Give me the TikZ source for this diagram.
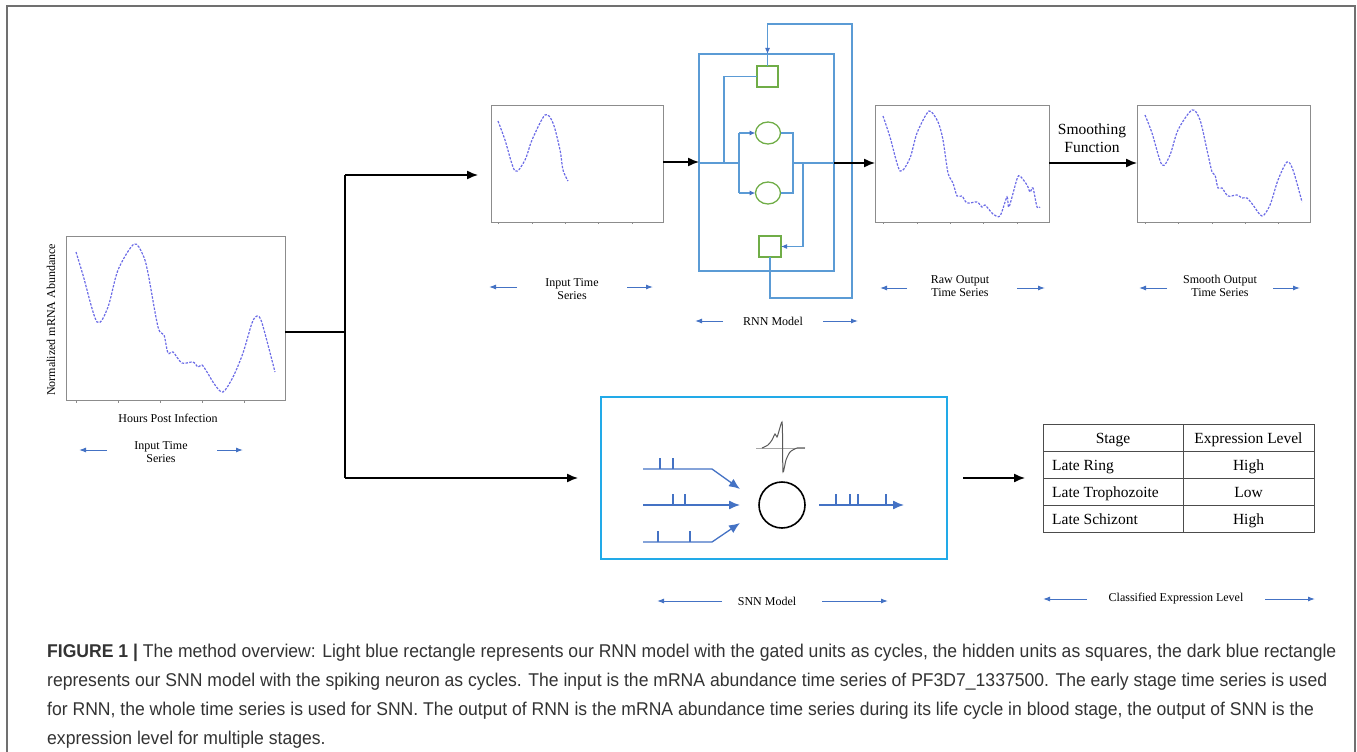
\documentclass[tikz,border=0pt]{standalone}
\usepackage{fontspec}
\setmainfont{Liberation Serif}
\newfontfamily\capfont[FakeStretch=0.95]{Liberation Sans}
\usetikzlibrary{arrows.meta,shapes.geometric}
\definecolor{plotc}{HTML}{6B6BE6}
\definecolor{lblue}{HTML}{4472C4}
\definecolor{rnnb}{HTML}{5B9BD5}
\definecolor{grn}{HTML}{70AD47}
\definecolor{snnb}{HTML}{22AAE8}
\definecolor{boxg}{HTML}{8C8C8C}
\definecolor{capc}{HTML}{333333}
\definecolor{framec}{HTML}{707070}
\tikzset{
  plotbox/.style={draw=boxg, line width=1pt, outer sep=0pt, inner sep=0pt},
  curve/.style={plotc, line width=1.2pt, dash pattern=on 2.4pt off 1.4pt},
  tick/.style={boxg, line width=0.5pt},
  lab/.style={font=\fontsize{12}{13}\selectfont, align=center, inner sep=0pt},
  larr/.style={lblue, line width=1pt, -{Latex[length=7pt,width=5pt]}},
  blk/.style={black, line width=1.4pt, -{Latex[length=11pt,width=9pt]}},
  rnnl/.style={rnnb, line width=1.1pt},
  rnnarr/.style={rnnb, line width=1.1pt, -{Latex[length=6pt,width=5pt,color=lblue]}},
  gsq/.style={draw=grn, line width=1.3pt, minimum width=21pt, minimum height=21pt, inner sep=0pt, outer sep=0pt},
  gell/.style={draw=grn, line width=1.3pt, ellipse, minimum width=25pt, minimum height=22pt, inner sep=0pt, outer sep=0pt},
  spk/.style={lblue, line width=1.3pt},
  spkarr/.style={lblue, line width=1.3pt, -{Latex[length=11pt,width=9pt]}},
  tabl/.style={draw=black!70, line width=0.9pt},
  tabt/.style={font=\fontsize{15.5}{17}\selectfont, inner sep=0pt},
  capline/.style={font=\capfont\fontsize{18.5}{21}\selectfont, text=capc, anchor=base west, inner sep=0pt}
}
\begin{document}
\begin{tikzpicture}[x=1pt,y=-1pt]
\useasboundingbox (0,0) rectangle (1357,752);
% frame
\draw[framec, line width=1.8pt] (7,752) -- (7,6) -- (1355,6) -- (1355,752);

% ---------- big input plot
\node[plotbox, minimum width=219pt, minimum height=164pt] (inp) at (175.5,318) {};
\foreach \t in {76,118,160,202,244} \draw[tick] (\t,400) -- (\t,403);
\draw[curve] plot[smooth, tension=0.5] coordinates {(76,252)(83,275)(97,322)(108,307)(118,270)(134,244)(143,255)(148,273)(158,327)(164,335)(168,353)(173,352)(182,363)(193,362)(198,367)(202,365)(207,372)(215,385)(223,392)(233,377)(243,353)(252,323)(257,316)(262,323)(275,372)};
\node[lab, rotate=90] (yl) at (51,320) {Normalized mRNA Abundance};
\node[lab] (xl) at (168,418) {Hours Post Infection};
\node[lab] (l1) at (161,452) {Input Time\\Series};
\draw[larr] (107,450) -- (79,450);
\draw[larr] (217,450) -- (243,450);

% ---------- top input plot
\node[plotbox, minimum width=172pt, minimum height=117pt] (tp) at (577,163.5) {};
\foreach \t in {498,532,565,598,632} \draw[tick] (\t,222) -- (\t,224);
\draw[curve] plot[smooth, tension=0.5] coordinates {(498,121)(505,140)(515,171)(525,160)(532,140)(545,115)(553,123)(560,150)(563,170)(568,181)};
\node[lab] (l2) at (572,289.5) {Input Time\\Series};
\draw[larr] (517,287) -- (489,287);
\draw[larr] (627,287) -- (653,287);

% ---------- raw output plot
\node[plotbox, minimum width=174pt, minimum height=117pt] (raw) at (962,163.5) {};
\foreach \t in {883,917,950,983,1017} \draw[tick] (\t,222) -- (\t,224);
\draw[curve] plot[smooth, tension=0.45] coordinates {(883,116)(890,137)(900,171)(910,158)(917,133)(929,111)(938,122)(943,140)(948,173)(953,183)(957,196)(962,196)(967,203)(977,202)(982,207)(985,205)(993,214)(1000,216)(1007,197)(1009,207)(1017,179)(1020,176)(1027,185)(1030,192)(1033,188)(1037,207)(1040,207)};
\node[lab] (l3) at (960,286.5) {Raw Output\\Time Series};
\draw[larr] (907,288) -- (880,288);
\draw[larr] (1017,288) -- (1045,288);

% ---------- smooth output plot
\node[plotbox, minimum width=173pt, minimum height=117pt] (smo) at (1223.5,163.5) {};
\foreach \t in {1145,1178,1212,1245,1278} \draw[tick] (\t,222) -- (\t,224);
\draw[curve] plot[smooth, tension=0.5] coordinates {(1145,115)(1152,133)(1162,165)(1170,155)(1178,130)(1192,110)(1200,120)(1207,150)(1212,172)(1215,175)(1218,188)(1222,188)(1228,196)(1237,195)(1242,198)(1247,198)(1253,205)(1262,216)(1270,205)(1278,180)(1287,162)(1293,170)(1302,202)};
\node[lab] (l4) at (1220,285.5) {Smooth Output\\Time Series};
\draw[larr] (1167,288) -- (1139,288);
\draw[larr] (1273,288) -- (1300,288);

% smoothing arrow
\node[font=\fontsize{15.5}{18}\selectfont, align=center, inner sep=0pt] (smf) at (1092,138) {Smoothing\\Function};
\draw[blk] (raw.east |- 0,163) -- (smo.west |- 0,163);

% ---------- RNN model
\node[draw=rnnb, line width=2pt, minimum width=135pt, minimum height=217pt, inner sep=0pt, outer sep=0pt] (rnn) at (766.5,162.5) {};
\node[gsq] (sq1) at (767.5,76.5) {};
\node[gsq, minimum width=22pt] (sq2) at (770,246.5) {};
\node[gell] (e1) at (768,133) {};
\node[gell] (e2) at (768,193) {};
\coordinate (rin) at (rnn.west |- 0,163);
\coordinate (rout) at (rnn.east |- 0,163);
\coordinate (bA) at (724,163);
\coordinate (bB) at (739,163);
\coordinate (bC) at (793,163);
\coordinate (bD) at (803,163);
\draw[rnnl] (rin) -- (bB);
\draw[rnnl] (bA) |- (sq1.west);
\draw[rnnl] (bB |- e1) -- (bB |- e2);
\draw[rnnarr] (bB |- e1) -- (e1.west);
\draw[rnnarr] (bB |- e2) -- (e2.west);
\draw[rnnl] (e1.east) -- (bC |- e1) -- (bC |- e2) -- (e2.east);
\draw[rnnl] (bC) -- (rout);
\draw[rnnarr] (bD) |- (sq2.east);
\coordinate (fb1) at (770,298);
\coordinate (fb2) at (852,24);
\draw[rnnl] (sq2.south -| fb1) -- (fb1) -| (fb2) -| (sq1.north |- rnn.north);
\draw[rnnarr] (767.5,40) -- (sq1.north |- rnn.north);
\draw[rnnl] (sq1.north |- rnn.north) -- (sq1.north);
\node[lab] (l5) at (773,321) {RNN Model};
\draw[larr] (723,321) -- (695,321);
\draw[larr] (823,321) -- (858,321);

% ---------- main connectors
\coordinate (sp) at (345,332);
\draw[black, line width=1.4pt] (inp.east |- sp) -- (sp);
\draw[black, line width=1.4pt] (345,175) -- (345,478);
\coordinate (tpin) at (478,175);
\coordinate (snnin) at (578,478);
\draw[blk] (345,175) -- (tpin);
\draw[blk] (345,478) -- (snnin);
\draw[blk] (tp.east |- 0,162) -- (rin |- 0,162);
\draw[blk] (rout) -- (raw.west |- rout);

% ---------- SNN model
\node[draw=snnb, line width=2pt, minimum width=346pt, minimum height=162pt, inner sep=0pt, outer sep=0pt] (snn) at (774,478) {};
\node[draw=black, line width=1.6pt, circle, minimum size=46pt, inner sep=0pt] (neu) at (782,505) {};
\coordinate (t1) at (740,489);
\coordinate (t2) at (740,505);
\coordinate (t3) at (740,523);
\draw[spkarr] (643,469) -- (712,469) -- (t1);
\draw[spkarr] (643,505) -- (t2);
\draw[spkarr] (643,542) -- (712,542) -- (t3);
\coordinate (ostart) at (819,505);
\coordinate (oend) at (904,505);
\draw[spkarr] (ostart) -- (oend);
\foreach \x in {660,673} \draw[spk] (\x,469) -- (\x,458);
\foreach \x in {673,685} \draw[spk] (\x,505) -- (\x,494);
\foreach \x in {658,690} \draw[spk] (\x,542) -- (\x,531);
\foreach \x in {836,850,858,886} \draw[spk] (\x,505) -- (\x,494);
\draw[gray!70, line width=0.7pt] (756,448) -- (805,448);
\draw[black!65, line width=1pt] plot[smooth, tension=0.4] coordinates {(762,448)(768,445)(772,440)(775,434)(777,437)(779,431)(782,422)(782.6,440)(783,472)(786,460)(790,452)(797,448)(805,448)};
\node[lab] (l6) at (767,601) {SNN Model};
\draw[larr] (722,601) -- (657,601);
\draw[larr] (822,601) -- (888,601);

% ---------- table
\coordinate (tabin) at (1025,478);
\draw[blk] (963,478) -- (tabin);
\draw[tabl] (1043,424) rectangle (1314,532);
\draw[tabl] (1183,424) -- (1183,532);
\foreach \y in {451,478,505} \draw[tabl] (1043,\y) -- (1314,\y);
\node[tabt, anchor=base] (h1) at (1113,443) {Stage};
\node[tabt, anchor=base] (h2) at (1248.5,443) {Expression Level};
\node[tabt, anchor=base west] (r1) at (1052,470) {Late Ring};
\node[tabt, anchor=base] (v1) at (1248.5,470) {High};
\node[tabt, anchor=base west] (r2) at (1052,497) {Late Trophozoite};
\node[tabt, anchor=base] (v2) at (1248.5,497) {Low};
\node[tabt, anchor=base west] (r3) at (1052,524) {Late Schizont};
\node[tabt, anchor=base] (v3) at (1248.5,524) {High};
\node[lab] (l7) at (1176,599) {Classified Expression Level};
\draw[larr] (1087,599) -- (1043,599);
\draw[larr] (1265,599) -- (1315,599);

% ---------- caption
\node[capline] (c1) at (47,657) {\textbf{FIGURE 1 |} The method overview: Light blue rectangle represents our RNN model with the gated units as cycles, the hidden units as squares, the dark blue rectangle};
\node[capline] (c2) at (47,686) {represents our SNN model with the spiking neuron as cycles. The input is the mRNA abundance time series of PF3D7\_1337500. The early stage time series is used};
\node[capline] (c3) at (47,715) {for RNN, the whole time series is used for SNN. The output of RNN is the mRNA abundance time series during its life cycle in blood stage, the output of SNN is the};
\node[capline] (c4) at (47,744) {expression level for multiple stages.};
\end{tikzpicture}
\end{document}
